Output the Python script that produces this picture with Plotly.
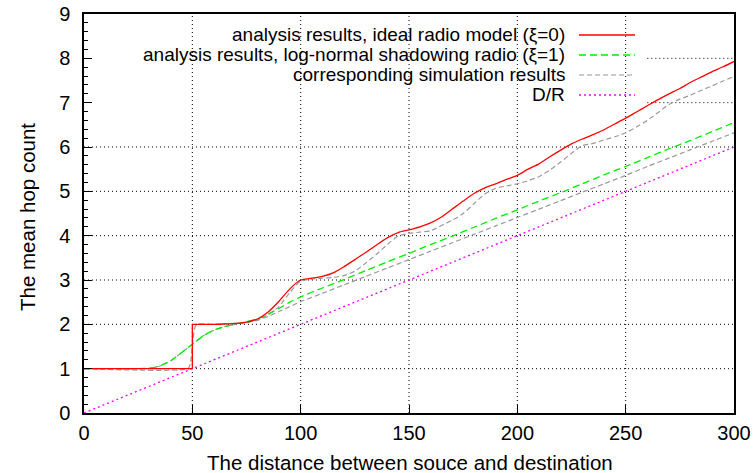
import plotly.graph_objects as go

# ---------------- data ----------------
x_ideal_step = [0, 50, 50]
y_ideal_step = [1, 1, 2]
x_ideal = [50, 60, 65, 70, 75, 80, 85, 90, 95, 100, 105, 110, 115, 120, 125, 130, 135, 140,
           145, 150, 155, 160, 165, 170, 175, 180, 185, 190, 195, 200, 205, 210, 215, 220, 225, 230,
           235, 240, 245, 250, 255, 260, 265, 270, 275, 280, 285, 290, 295, 300]
y_ideal = [2, 2.0, 2.01, 2.02, 2.05, 2.12, 2.28, 2.52, 2.8, 3.0, 3.04, 3.08, 3.16, 3.3, 3.46,
           3.62, 3.79, 3.95, 4.07, 4.13, 4.2, 4.29, 4.42, 4.6, 4.78, 4.95, 5.08, 5.17, 5.27, 5.36,
           5.5, 5.62, 5.78, 5.93, 6.07, 6.18, 6.28, 6.39, 6.52, 6.65, 6.79, 6.93, 7.07, 7.2, 7.32,
           7.46, 7.58, 7.7, 7.81, 7.93]

x_sim_ideal = [0, 48, 49, 50, 51, 52, 60, 65, 70, 75, 80, 85, 90, 95, 100, 105, 110, 115, 120, 125,
               130, 135, 140, 145, 150, 155, 160, 165, 170, 175, 180, 185, 190, 195, 200, 205, 210,
               215, 220, 225, 230, 235, 240, 245, 250, 255, 260, 265, 270, 275, 280, 285, 290, 295, 300]
y_sim_ideal = [1, 1, 1.1, 1.5, 1.9, 2.0, 2.0, 2.01, 2.02, 2.04, 2.1, 2.22, 2.4, 2.72, 2.98, 3.02,
               3.04, 3.06, 3.1, 3.2, 3.38, 3.58, 3.8, 3.99, 4.05, 4.08, 4.11, 4.23, 4.35, 4.5, 4.72,
               4.94, 5.07, 5.12, 5.17, 5.24, 5.33, 5.48, 5.66, 5.86, 6.03, 6.08, 6.16, 6.23, 6.32,
               6.45, 6.6, 6.78, 6.96, 7.08, 7.17, 7.28, 7.38, 7.49, 7.59]

x_lognorm = [0, 25, 30, 35, 40, 45, 50, 55, 60, 65, 70, 75, 80, 85, 90, 95, 100, 110, 120, 130,
             140, 150, 160, 170, 180, 190, 200, 210, 220, 230, 240, 250, 260, 270, 280, 290, 300]
y_lognorm = [1, 1.0, 1.01, 1.06, 1.18, 1.36, 1.55, 1.74, 1.87, 1.95, 2.01, 2.06, 2.12, 2.23, 2.36,
             2.5, 2.62, 2.82, 3.01, 3.21, 3.41, 3.6, 3.8, 3.99, 4.19, 4.39, 4.58, 4.78, 4.97, 5.17,
             5.37, 5.56, 5.76, 5.96, 6.15, 6.35, 6.55]
y_sim_lognorm = [1, 1.0, 1.01, 1.06, 1.18, 1.36, 1.55, 1.74, 1.87, 1.95, 2.0, 2.04, 2.09, 2.18,
                 2.29, 2.4, 2.51, 2.7, 2.89, 3.08, 3.27, 3.46, 3.65, 3.84, 4.03, 4.22, 4.41, 4.6,
                 4.79, 4.98, 5.17, 5.36, 5.56, 5.75, 5.94, 6.13, 6.32]

x_dr = [0, 300]
y_dr = [0, 6]

legend_labels = [
    "analysis results, ideal radio model (ξ=0)",
    "analysis results, log-normal shadowing radio (ξ=1)",
    "corresponding simulation results",
    "D/R",
]
x_title = "The distance between souce and destination"
y_title = "The mean hop count"

x_ticks = [0, 50, 100, 150, 200, 250, 300]
y_ticks = [0, 1, 2, 3, 4, 5, 6, 7, 8, 9]

# ---------------- styles ----------------
FONT = "Liberation Sans, Arial, Helvetica, sans-serif"
RED = "#ff0000"
GREEN = "#00ee00"
GRAY = "#999999"
MAGENTA = "#ff00ff"
styles = [
    dict(color=RED, width=1.3, dash="solid"),
    dict(color=GREEN, width=1.3, dash="7px,4px"),
    dict(color=GRAY, width=1.2, dash="5px,3px"),
    dict(color=MAGENTA, width=1.3, dash="2px,3px"),
]

fig = go.Figure()
fig.add_trace(go.Scatter(x=x_sim_ideal, y=y_sim_ideal, mode="lines", line=styles[2],
                         line_shape="spline", line_smoothing=0.6, showlegend=False))
fig.add_trace(go.Scatter(x=x_lognorm, y=y_sim_lognorm, mode="lines", line=styles[2],
                         line_shape="spline", line_smoothing=0.6, showlegend=False))
fig.add_trace(go.Scatter(x=x_dr, y=y_dr, mode="lines", line=styles[3], showlegend=False))
fig.add_trace(go.Scatter(x=x_lognorm, y=y_lognorm, mode="lines", line=styles[1],
                         line_shape="spline", line_smoothing=0.6, showlegend=False))
fig.add_trace(go.Scatter(x=x_ideal_step, y=y_ideal_step, mode="lines", line=styles[0], showlegend=False))
fig.add_trace(go.Scatter(x=x_ideal, y=y_ideal, mode="lines", line=styles[0],
                         line_shape="spline", line_smoothing=0.6, showlegend=False))

shapes = []
# grid lines (dotted)
for xv in x_ticks[1:-1]:
    shapes.append(dict(type="line", xref="x", yref="y", x0=xv, x1=xv, y0=0, y1=9,
                       line=dict(color="black", width=1, dash="1px,3px"), layer="below"))
for yv in y_ticks[1:-1]:
    x_start = 0 if yv <= 6 else 260
    shapes.append(dict(type="line", xref="x", yref="y", x0=x_start, x1=300, y0=yv, y1=yv,
                       line=dict(color="black", width=1, dash="1px,3px"), layer="below"))

W, H = 756, 473
ML, MR, MT, MB = 84, 22, 14, 60
pw, ph = W - ML - MR, H - MT - MB
def px_to_paper(xp, yp):
    return (xp - ML) / pw, 1 - (yp - MT) / ph

annotations = []
# manual legend (gnuplot style: right-aligned text, sample on right)
row_y = [35, 55, 75, 95]
for lab, ry, st in zip(legend_labels, row_y, styles):
    tx, ty = px_to_paper(566, ry)
    annotations.append(dict(x=tx, y=ty, xref="paper", yref="paper", text=lab, showarrow=False,
                            xanchor="right", yanchor="middle", borderpad=0,
                            font=dict(family=FONT, size=19, color="black")))
    lx0, ly = px_to_paper(579, ry)
    lx1, _ = px_to_paper(635, ry)
    shapes.append(dict(type="line", xref="paper", yref="paper", x0=lx0, x1=lx1, y0=ly, y1=ly,
                       line=st))

# axis titles
tx, ty = px_to_paper(410, 462)
annotations.append(dict(x=tx, y=ty, xref="paper", yref="paper", text=x_title, showarrow=False,
                        xanchor="center", yanchor="middle",
                        font=dict(family=FONT, size=20.5, color="black")))
tx, ty = px_to_paper(27, 217)
annotations.append(dict(x=tx, y=ty, xref="paper", yref="paper", text=y_title, showarrow=False,
                        xanchor="center", yanchor="middle", textangle=-90,
                        font=dict(family=FONT, size=20.5, color="black")))

fig.update_layout(
    width=W, height=H,
    margin=dict(l=ML, r=MR, t=MT, b=MB),
    paper_bgcolor="white", plot_bgcolor="white",
    font=dict(family=FONT, size=20, color="black"),
    shapes=shapes, annotations=annotations,
    xaxis=dict(range=[0, 300], tickvals=x_ticks, ticktext=[str(v) for v in x_ticks],
               automargin=False,
               showgrid=False, zeroline=False, showline=True, linecolor="black", linewidth=1.5,
               mirror=True, ticks="inside", ticklen=8, tickcolor="black",
               ticklabelstandoff=1,
               tickfont=dict(family=FONT, size=20)),
    yaxis=dict(range=[0, 9], tickvals=y_ticks, ticktext=[str(v) for v in y_ticks],
               automargin=False,
               showgrid=False, zeroline=False, showline=True, linecolor="black", linewidth=1.5,
               mirror=True, ticks="inside", ticklen=8, tickcolor="black",
               ticklabelstandoff=8,
               tickfont=dict(family=FONT, size=20),
               minor=dict(dtick=0.2, ticks="inside", ticklen=4, tickcolor="black", showgrid=False)),
)

fig.write_html("out.html")
